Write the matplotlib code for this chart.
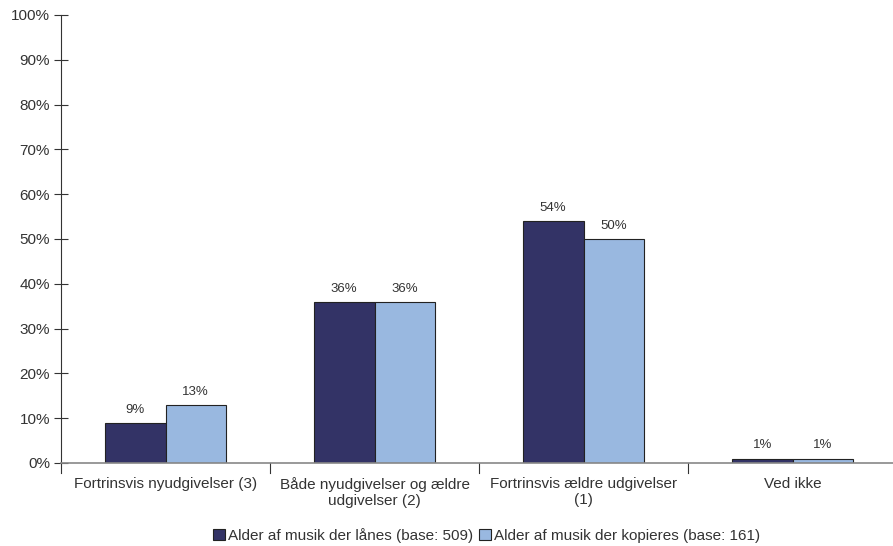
import numpy as np
import matplotlib.pyplot as plt

categories = ["Fortrinsvis nyudgivelser (3)", "Både nyudgivelser og ældre\nudgivelser (2)",
              "Fortrinsvis ældre udgivelser\n(1)", "Ved ikke"]
laanes = [9, 36, 54, 1]
kopieres = [13, 36, 50, 1]
series_names = ["Alder af musik der lånes (base: 509)", "Alder af musik der kopieres (base: 161)"]

plt.rcParams['font.family'] = ['Liberation Sans', 'DejaVu Sans']

fig = plt.figure(figsize=(8.93, 5.46), dpi=100)
ax = fig.add_axes([61/893, (546-463)/546, 836/893, 448/546])

x = np.arange(len(categories))
w = 0.29
b1 = ax.bar(x - w/2, laanes, w, color="#333366", edgecolor="#222222", linewidth=0.8,
            label=series_names[0])
b2 = ax.bar(x + w/2, kopieres, w, color="#99b8e0", edgecolor="#222222", linewidth=0.8,
            label=series_names[1])
for bars, vals in ((b1, laanes), (b2, kopieres)):
    for r, v in zip(bars, vals):
        ax.text(r.get_x() + r.get_width()/2, v + 1.6, f"{v}%", ha="center", va="bottom",
                fontsize=9.5, color="#333333")

ax.set_xlim(-0.5, 3.5)
ax.set_ylim(0, 100)
ax.set_yticks(np.arange(0, 101, 10))
ax.set_yticklabels([f"{t}%" for t in range(0, 101, 10)], fontsize=11, color="#333333")
ax.set_xticks(x)
ax.set_xticklabels(categories, fontsize=11, color="#333333")
ax.tick_params(axis="x", length=0, pad=10)
ax.tick_params(axis="y", direction="inout", length=10, width=0.8, color="#333333", pad=3)
for b in np.arange(0.5, 3.5, 1):
    ax.plot([b, b], [0, -2.2], color="#333333", lw=0.8, clip_on=False)
ax.plot([-0.5, -0.5], [0, -2.2], color="#333333", lw=0.8, clip_on=False)

for s in ("top", "right"):
    ax.spines[s].set_visible(False)
ax.spines["left"].set_color("#333333")
ax.spines["left"].set_linewidth(0.8)
ax.spines["bottom"].set_color("#888888")
ax.spines["bottom"].set_linewidth(1.2)

fig.legend(loc="lower center", bbox_to_anchor=(0.545, -0.02), ncol=2, frameon=False,
           fontsize=11, handlelength=0.75, handleheight=0.75, handletextpad=0.2,
           columnspacing=0.4, labelcolor="#333333")

fig.savefig("out.png", dpi=100)
